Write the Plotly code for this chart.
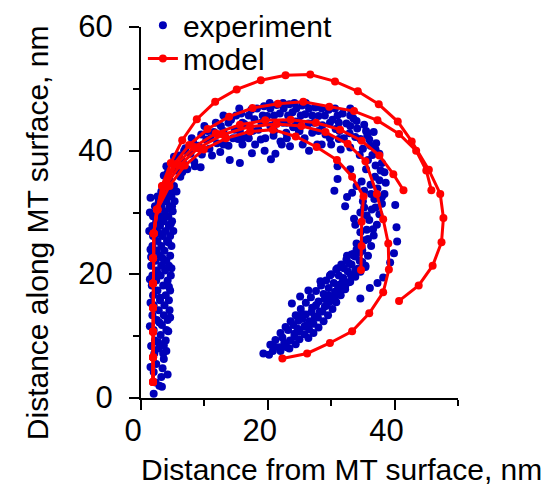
import plotly.graph_objects as go

# ---------------- data (nm) ----------------
# experiment: vertical stem along the MT surface
exp_stem_x = [2.0, 3.3, 2.3, 3.2, 2.0, 3.4, 2.4, 3.6, 3.5, 2.1, 2.8, 3.6, 2.2, 3.9, 3.1, 2.0, 4.0, 3.3,
              2.5, 4.2, 3.6, 1.8, 2.8, 4.5, 2.0, 3.7, 3.0, 4.4, 1.9, 3.9, 2.6, 4.6, 1.7, 3.5, 2.4, 4.2,
              1.8, 3.1, 4.7, 2.5, 3.8, 1.6, 3.2, 4.4, 2.3, 4.0, 1.7, 3.0, 4.6, 2.5, 3.7, 1.8, 3.2, 4.8,
              2.6, 4.1, 1.9, 3.4, 4.6, 2.4, 3.9, 5.1, 1.8, 3.0, 4.4, 2.4, 3.6, 4.9, 1.9, 3.1, 4.3, 2.6,
              3.8, 5.0, 2.2, 3.2, 4.5, 2.8, 4.0, 5.3, 2.6, 3.6, 4.8, 3.2, 4.4, 5.6,
              2.9, 1.5, 4.2, 2.7, 1.6, 4.0, 2.9, 1.4, 4.3, 3.0, 1.5, 4.6, 2.6, 1.4, 4.4, 3.4, 1.5, 4.8,
              2.9, 1.3, 4.3, 3.5, 1.4, 4.7, 2.9, 1.5, 4.2, 3.4, 1.6, 4.9]
exp_stem_y = [0.7, 1.8, 2.5, 3.4, 4.2, 4.8, 5.5, 6.3, 7.2, 7.2, 8.0, 8.5, 9.3, 9.3, 10.2, 11.0, 11.0, 11.8,
              12.6, 12.6, 13.4, 13.4, 14.2, 14.2, 15.0, 15.0, 15.8, 15.8, 16.6, 16.6, 17.4, 17.4, 18.2, 18.2,
              19.0, 19.0, 19.8, 19.8, 19.8, 20.6, 20.6, 21.4, 21.4, 21.4, 22.2, 22.2, 23.0, 23.0, 23.0, 23.8,
              23.8, 24.6, 24.6, 24.6, 25.4, 25.4, 26.2, 26.2, 26.2, 27.0, 27.0, 27.0, 27.8, 27.8, 27.8, 28.6,
              28.6, 28.6, 29.4, 29.4, 29.4, 30.2, 30.2, 30.2, 31.0, 31.0, 31.0, 31.8, 31.8, 31.8, 32.6, 32.6,
              32.6, 33.4, 33.4, 33.4,
              2.0, 5.0, 3.8, 9.0, 8.4, 7.6, 12.2, 11.6, 10.8, 16.2, 15.4, 13.0, 20.1, 19.2, 18.0, 22.6,
              24.0, 21.0, 26.6, 27.0, 25.2, 29.0, 30.0, 28.2, 32.2, 32.4, 33.0, 34.0, 22.8, 31.0]
# experiment: arc over the top
exp_arc_x = [3.8, 4.5, 5.2, 4.2, 5.5, 6.2, 5.0, 6.6, 7.3, 6.0, 7.8, 8.4, 7.0, 9.0, 9.6, 8.2, 10.3, 10.8,
             9.4, 11.2, 11.5, 12.0, 12.6, 13.2, 13.8, 14.2, 14.8, 15.3, 15.8, 16.3, 16.9, 17.4, 17.9,
             18.5, 18.9, 19.4, 19.9, 20.4, 20.9, 21.4, 21.9, 22.4, 22.9, 23.4, 23.9, 24.4, 24.9, 25.4,
             25.9, 26.4, 27.0, 27.5, 28.0, 28.6, 29.1, 29.6, 30.2, 30.7, 31.2, 14.0, 15.6, 17.5, 19.5,
             21.2, 23.5, 25.5, 26.5, 28.5, 20.5, 12.5, 16.0, 22.0, 24.0,
             13.0, 16.0, 18.0, 22.2, 27.8, 30.0,
             11.0, 14.5, 17.0, 19.6, 23.0, 25.8, 29.8, 32.0,
             10.5, 13.0, 15.6, 17.6, 21.0, 25.0, 28.0, 31.3,
             11.8, 13.8, 16.0, 19.0, 21.2, 23.0, 25.0, 27.3, 29.8, 31.2,
             13.0, 15.0, 17.0, 19.2, 21.0, 23.2, 25.2, 27.0, 29.0, 31.0, 33.0,
             15.5, 18.3, 20.4, 22.5, 24.5, 26.5, 28.5, 30.6, 33.0,
             20.3, 22.4, 24.2, 26.0,
             4.0, 5.2, 6.8, 8.0, 9.5, 10.0, 6.5, 8.5, 4.8, 3.6]
exp_arc_y = [34.5, 35.2, 34.3, 36.4, 36.8, 35.8, 37.9, 38.2, 37.0, 39.2, 39.5, 38.2, 40.4, 40.8, 39.4,
             41.5, 41.8, 40.3, 37.3, 39.2, 43.0, 41.2, 44.0, 42.5, 40.8, 45.0, 43.4, 41.9, 46.0, 44.3,
             42.6, 46.6, 45.1, 43.4, 41.8, 47.2, 45.6, 44.0, 42.4, 47.4, 46.0, 44.5, 42.9, 47.5, 46.2,
             44.7, 43.2, 47.3, 45.9, 44.4, 42.9, 47.0, 45.6, 44.1, 42.6, 46.6, 45.0, 43.5, 41.9, 38.5,
             38.0, 39.6, 40.0, 39.5, 40.7, 41.0, 40.0, 41.0, 38.6, 39.8, 42.0, 41.5, 43.8,
             41.0, 41.0, 41.0, 41.0, 41.0, 41.0,
             42.0, 42.0, 42.0, 42.0, 42.0, 42.0, 42.0, 42.0,
             43.2, 43.2, 43.2, 43.2, 43.2, 43.2, 43.2, 43.2,
             44.5, 44.5, 44.5, 44.5, 44.5, 44.5, 44.5, 44.5, 44.5, 44.5,
             45.7, 45.7, 45.7, 45.7, 45.7, 45.7, 45.7, 45.7, 45.7, 45.7, 45.7,
             46.8, 46.8, 46.8, 46.8, 46.8, 46.8, 46.8, 46.8, 46.8,
             47.7, 47.7, 47.7, 47.7,
             37.5, 39.0, 40.0, 42.0, 42.6, 44.0, 36.5, 37.5, 33.6, 36.0]
# experiment: descending right side
exp_right_x = [31.8, 32.4, 32.9, 33.5, 34.1, 34.6, 35.2, 35.7, 36.2, 36.7, 37.1, 37.6, 33.0, 34.5, 35.8,
               37.0, 38.0, 38.4, 36.9, 38.6, 37.3, 38.4, 36.8, 38.0, 36.4, 37.6, 36.0, 37.2, 35.6, 36.7,
               35.3, 36.3, 34.9, 35.8, 34.5, 35.4, 31.5, 33.0, 34.8, 30.5, 32.2, 33.6, 35.2, 31.0, 33.3,
               33.0, 34.0, 35.5, 36.0, 37.0, 33.8, 35.0, 36.5, 37.8, 35.5, 36.2, 37.6, 35.2, 34.0, 36.3,
               35.0, 37.0, 34.6, 35.6, 33.8, 34.6, 35.8, 34.0, 33.5, 36.6, 32.5, 31.0, 38.0]
exp_right_y = [46.0, 44.4, 42.8, 45.2, 43.6, 41.9, 44.2, 42.5, 40.8, 43.0, 41.2, 39.5, 40.5, 39.3, 38.5,
               37.6, 38.0, 36.5, 35.8, 34.8, 33.9, 33.0, 32.2, 31.4, 30.5, 29.7, 28.8, 28.0, 27.2, 26.3,
               25.5, 24.6, 23.8, 23.0, 22.2, 21.4, 40.2, 37.0, 35.0, 33.5, 31.0, 29.0, 30.8, 35.4, 33.2,
               44.0, 44.8, 43.2, 41.8, 40.2, 42.2, 40.3, 39.3, 36.8, 37.0, 34.5, 35.2, 33.5, 34.3, 33.0,
               31.8, 30.8, 30.0, 29.5, 28.0, 26.8, 25.7, 25.0, 23.3, 27.3, 32.5, 37.5, 32.5]
# experiment: lower diagonal band and stray points
exp_low_x = [34.5, 33.8, 34.9, 33.2, 34.2, 32.6, 33.5, 31.9, 32.8, 31.3, 32.2, 30.6, 31.5, 29.9, 30.8,
             29.3, 30.2, 28.6, 29.5, 27.9, 28.8, 27.2, 28.0, 26.5, 27.2, 25.8, 26.4, 25.0, 24.2, 23.5,
             22.6, 24.4, 21.8, 20.8, 19.3, 23.2, 24.8, 26.0, 23.8, 25.1, 26.4, 28.3, 29.8, 31.0, 32.5,
             34.6, 36.1, 37.3, 38.2, 39.3, 39.9, 40.4, 40.3, 40.1,
             34.0, 33.2, 32.4, 31.6, 30.8, 30.0, 29.2, 28.4, 27.6, 26.8, 26.0, 25.2, 24.4, 23.6, 22.8,
             22.0, 21.2, 20.4, 35.4, 34.6, 33.8, 33.0, 32.2, 31.4, 30.6, 29.8, 29.0, 28.2, 27.4, 26.6,
             25.8, 25.0, 24.2, 23.4, 22.0, 20.2,
             21.0, 22.3, 23.0, 24.0, 25.5, 26.2, 27.0, 28.0, 28.8, 29.6, 30.4, 31.2, 32.0, 32.8, 33.6,
             34.8, 25.4, 27.6, 29.6, 31.8, 33.8, 24.7, 26.9, 29.0, 31.1, 33.1]
exp_low_y = [23.5, 22.9, 22.0, 21.6, 20.9, 20.5, 19.8, 19.4, 18.7, 18.3, 17.6, 17.2, 16.6, 16.1, 15.5,
             15.0, 14.4, 14.0, 13.4, 13.0, 12.4, 12.0, 11.4, 11.1, 10.5, 10.3, 9.7, 9.5, 10.4, 9.3,
             8.9, 8.7, 8.2, 7.6, 7.2, 11.0, 12.5, 13.5, 15.3, 16.4, 17.4, 18.9, 19.8, 21.0, 23.0,
             16.1, 17.8, 18.6, 19.5, 21.9, 23.4, 25.3, 27.6, 31.2,
             24.0, 23.2, 22.4, 21.6, 20.8, 20.0, 19.0, 18.2, 17.3, 16.3, 15.4, 14.4, 13.4, 12.4, 11.5,
             10.5, 9.4, 8.6, 21.2, 20.4, 19.6, 18.8, 18.0, 17.2, 16.4, 15.6, 14.8, 14.0, 13.2, 12.4,
             11.6, 10.8, 9.9, 8.0, 7.6, 7.0,
             8.3, 9.8, 8.2, 11.8, 12.8, 11.8, 14.6, 15.6, 16.8, 17.8, 18.6, 19.8, 21.0, 21.8, 23.0,
             24.4, 13.6, 15.0, 16.6, 18.8, 20.6, 11.2, 13.9, 16.0, 17.9, 19.9]

# model trajectories
model_1_x = [1.9, 1.9, 1.9, 1.9, 1.9, 1.9, 2.0, 2.6, 3.3, 4.7, 6.5, 8.8, 11.7, 15.1, 18.9, 22.8, 26.7,
             30.6, 34.2, 37.5, 40.5, 42.7, 45.4, 47.2, 47.7, 47.4, 46.0, 43.8, 40.7]
model_1_y = [2.6, 6.6, 10.7, 14.6, 18.5, 22.6, 26.6, 30.5, 34.3, 38.0, 41.7, 45.1, 47.9, 49.9, 51.4,
             52.2, 52.3, 51.2, 49.6, 47.5, 44.7, 41.5, 36.9, 33.0, 29.1, 25.2, 21.4, 18.2, 15.7]
model_2_x = [1.9, 1.9, 1.9, 1.9, 1.9, 1.9, 2.0, 2.5, 3.4, 5.2, 7.6, 10.5, 13.9, 17.6, 21.6, 25.6, 29.7,
             33.6, 37.3, 40.7, 43.4, 45.0, 45.8]
model_2_y = [2.6, 6.6, 10.7, 14.6, 18.5, 22.6, 26.6, 30.5, 34.3, 37.8, 40.9, 43.5, 45.5, 46.9, 47.6,
             47.9, 47.1, 46.4, 44.9, 42.7, 40.0, 36.8, 33.6]
model_3_x = [1.9, 1.9, 1.9, 1.9, 1.9, 1.9, 2.0, 2.5, 3.6, 5.6, 8.4, 11.8, 15.6, 19.6, 23.6, 27.6, 31.4,
             34.8, 37.6, 39.8, 41.4]
model_3_y = [2.6, 6.6, 10.7, 14.6, 18.5, 22.6, 26.6, 30.5, 34.3, 37.8, 40.6, 42.8, 44.2, 44.9, 45.0,
             44.5, 43.4, 41.6, 39.2, 36.2, 33.6]
model_4_x = [1.9, 1.9, 1.9, 1.9, 1.9, 1.9, 2.0, 2.6, 3.9, 6.1, 9.0, 12.9, 17.2, 21.4, 25.3, 29.1, 32.6,
             35.4, 37.2, 38.2, 39.0, 39.1, 38.2, 36.0, 33.3, 29.8, 26.2, 22.3]
model_4_y = [2.6, 6.6, 10.7, 14.6, 18.5, 22.6, 26.6, 30.5, 34.3, 37.6, 40.4, 42.6, 43.9, 44.3, 44.0,
             43.0, 41.1, 38.3, 33.0, 28.9, 25.0, 20.8, 17.1, 13.7, 10.8, 8.9, 7.2, 6.4]
model_5_x = [1.9, 1.9, 1.9, 1.9, 1.9, 1.9, 2.0, 2.6, 4.5, 6.9, 9.9, 13.4, 17.2, 20.8, 24.4, 27.7, 30.9,
             33.3, 35.1, 34.8, 34.8, 34.7]
model_5_y = [2.6, 6.6, 10.7, 14.6, 18.5, 22.6, 26.6, 30.5, 34.3, 37.6, 40.2, 42.0, 43.1, 43.4, 42.3,
             40.6, 38.5, 35.8, 32.6, 28.5, 24.6, 20.7]

x_ticks = [0, 20, 40]
y_ticks = [0, 20, 40, 60]

# ---------------- figure ----------------
FONT = "Liberation Sans, Arial, sans-serif"
BLUE = "#0000B8"
RED = "#FF0000"

exp_x = exp_stem_x + exp_arc_x + exp_right_x + exp_low_x
exp_y = exp_stem_y + exp_arc_y + exp_right_y + exp_low_y

fig = go.Figure()
fig.add_trace(go.Scatter(x=exp_x, y=exp_y, mode="markers", name="experiment",
                         marker=dict(color=BLUE, size=8), legend="legend", cliponaxis=False))
models = [(model_1_x, model_1_y), (model_2_x, model_2_y), (model_3_x, model_3_y),
          (model_4_x, model_4_y), (model_5_x, model_5_y)]
for i, (mx, my) in enumerate(models):
    fig.add_trace(go.Scatter(x=mx, y=my, mode="lines+markers", name="model",
                             line=dict(color=RED, width=3), marker=dict(color=RED, size=8),
                             showlegend=(i == 0), legend="legend2", cliponaxis=False))

axis_common = dict(showline=True, linecolor="black", linewidth=2, showgrid=False, zeroline=False,
                   ticks="outside", ticklen=10, tickwidth=2, tickcolor="black",
                   ticklabeloverflow="allow",
                   tickfont=dict(family=FONT, size=31, color="black"),
                   minor=dict(ticks="outside", ticklen=6, tickwidth=2, tickcolor="black", dtick=10))
fig.update_xaxes(range=[0, 50], tickvals=x_ticks, ticklabelshift=-8, ticklabelstandoff=-6,
                 **axis_common)
fig.update_yaxes(range=[0, 60], tickvals=y_ticks, ticklabelstandoff=10, ticklabelshift=-1,
                 **axis_common)

# the page body has an 8 px default margin, so the figure is 8 px smaller each way
fig.update_layout(
    width=550, height=483,
    margin=dict(l=133, r=100, t=19, b=93, pad=0, autoexpand=False),
    plot_bgcolor="white", paper_bgcolor="white",
    font=dict(family=FONT, size=30, color="black"),
    showlegend=True,
    legend=dict(x=0.006, y=1.005, xanchor="left", yanchor="middle", bgcolor="rgba(0,0,0,0)",
                font=dict(family=FONT, size=30, color="black")),
    legend2=dict(x=0.006, y=0.915, xanchor="left", yanchor="middle", bgcolor="rgba(0,0,0,0)",
                 font=dict(family=FONT, size=30, color="black")),
    annotations=[
        dict(text="Distance from MT surface, nm", xref="paper", yref="paper", x=0.634, y=-0.193,
             xanchor="center", yanchor="middle", showarrow=False,
             font=dict(family=FONT, size=30, color="black")),
        dict(text="Distance along MT surface, nm", xref="paper", yref="paper", x=-0.326, y=0.446,
             xanchor="center", yanchor="middle", showarrow=False, textangle=-90,
             font=dict(family=FONT, size=30, color="black")),
    ],
)

fig.write_html("out.html")
